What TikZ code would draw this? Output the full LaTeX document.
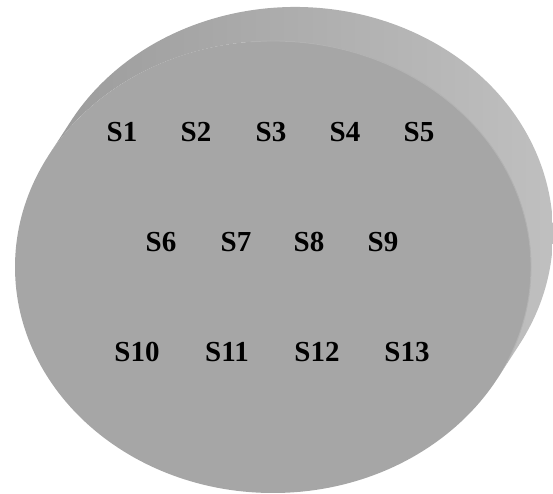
\documentclass[tikz,border=0pt]{standalone}
\usepackage{fontspec}
\setmainfont{Liberation Serif}
\definecolor{frontgray}{HTML}{A6A6A6}
\definecolor{sidedark}{HTML}{888888}
\definecolor{sideleft}{HTML}{9C9C9C}
\definecolor{sidelight}{HTML}{C2C2C2}
\definecolor{rimlight}{HTML}{B2B2B2}
\tikzset{
  label/.style={font=\fontsize{29}{30}\selectfont\bfseries, text=black, inner sep=0pt},
  sidefill/.style={left color=sideleft, middle color=sidedark, right color=sidelight},
}
\begin{document}
\begin{tikzpicture}[x=1pt,y=1pt]
\useasboundingbox (0,0) rectangle (553,494);
\coordinate (fc) at (273,227);
\coordinate (bc) at (295,261);
% side band of the disc
\path[sidefill]
  ([shift={(-29.5:258pt and 226pt)}]fc) --
  ([shift={(-29.5:258pt and 226pt)}]bc)
  arc[start angle=-29.5, end angle=150.5, x radius=258pt, y radius=226pt] --
  ([shift={(150.5:258pt and 226pt)}]fc)
  arc[start angle=150.5, end angle=-29.5, x radius=258pt, y radius=226pt] -- cycle;
% front face
\fill[frontgray] (fc) ellipse[x radius=258pt, y radius=226pt];
\draw[rimlight, line width=0.9pt]
  ([shift={(95:258pt and 226pt)}]fc)
  arc[start angle=95, end angle=-25, x radius=258pt, y radius=226pt];
% labels
\node[label] (s1) at (122,362) {S1};
\node[label] (s2) at (196,362) {S2};
\node[label] (s3) at (271,362) {S3};
\node[label] (s4) at (345,362) {S4};
\node[label] (s5) at (419,362) {S5};
\node[label] (s6) at (161,252) {S6};
\node[label] (s7) at (236,252) {S7};
\node[label] (s8) at (309,252) {S8};
\node[label] (s9) at (383,252) {S9};
\node[label] (s10) at (137,142) {S10};
\node[label] (s11) at (227,142) {S11};
\node[label] (s12) at (317,142) {S12};
\node[label] (s13) at (407,142) {S13};
\end{tikzpicture}
\end{document}
